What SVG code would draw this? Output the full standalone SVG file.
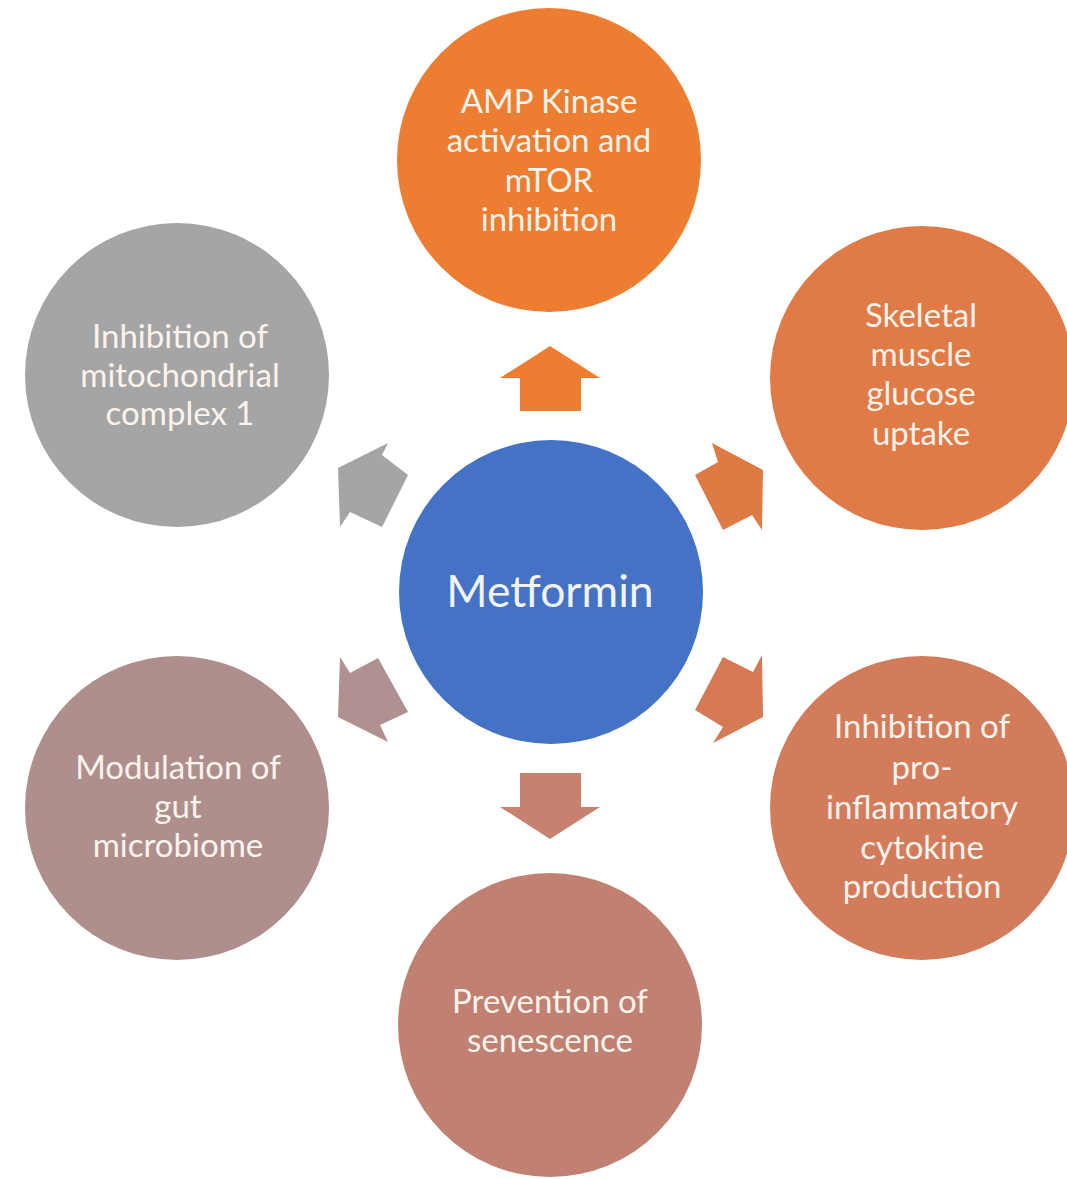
<svg xmlns="http://www.w3.org/2000/svg" width="1067" height="1179" viewBox="0 0 1067 1179">
<style>
.lbl{font-family:Lato,"Liberation Sans",sans-serif;font-size:33px;fill:#FBF3EC;text-anchor:middle}
.big{font-family:Lato,"Liberation Sans",sans-serif;font-size:44.5px;fill:#F2F4FA;text-anchor:middle}
</style>
<rect width="1067" height="1179" fill="#FFFFFF"/>
<g id="connectors">
<polygon points="550,346 600,378 581,378 581,411 520,411 520,378 500,378" fill="#ED7D31"/>
<polygon points="695,475 723,530 752,515 762,530 763,470 712,443 718,462" fill="#E07A45"/>
<polygon points="762,655 753,672 723,657 695,710 723,727 713,743 763,717" fill="#D67A55"/>
<polygon points="520,773 581,773 581,807 600,807 550,839 500,807 520,807" fill="#C8806F"/>
<polygon points="340,657 350,673 378,658 408,712 380,725 388,742 338,717" fill="#B09090"/>
<polygon points="388,443 338,468 340,527 350,512 382,527 408,475 382,455" fill="#A5A5A5"/>
</g>
<g id="node-metformin">
<circle cx="551" cy="592" r="152" fill="#4472C4"/>
<text class="big" x="550" y="607">Metformin</text>
</g>
<g id="node-ampk">
<circle cx="549" cy="160" r="152" fill="#ED7D31"/>
<text class="lbl" x="549" y="113">AMP Kinase</text>
<text class="lbl" x="549" y="152">activation and</text>
<text class="lbl" x="549" y="192">mTOR</text>
<text class="lbl" x="549" y="231">inhibition</text>
</g>
<g id="node-skeletal">
<circle cx="922" cy="378" r="152" fill="#E07A46"/>
<text class="lbl" x="921" y="327">Skeletal</text>
<text class="lbl" x="921" y="366">muscle</text>
<text class="lbl" x="921" y="405">glucose</text>
<text class="lbl" x="921" y="445">uptake</text>
</g>
<g id="node-cytokine">
<circle cx="922" cy="808" r="152" fill="#D27C5C"/>
<text class="lbl" x="922" y="738">Inhibition of</text>
<text class="lbl" x="922" y="779">pro-</text>
<text class="lbl" x="922" y="819">inflammatory</text>
<text class="lbl" x="922" y="859">cytokine</text>
<text class="lbl" x="922" y="898">production</text>
</g>
<g id="node-senescence">
<circle cx="550" cy="1025" r="152" fill="#C08172"/>
<text class="lbl" x="550" y="1013">Prevention of</text>
<text class="lbl" x="550" y="1052">senescence</text>
</g>
<g id="node-microbiome">
<circle cx="177" cy="808" r="152" fill="#AF8F8E"/>
<text class="lbl" x="178" y="779">Modulation of</text>
<text class="lbl" x="178" y="818">gut</text>
<text class="lbl" x="178" y="857">microbiome</text>
</g>
<g id="node-mito">
<circle cx="177" cy="375" r="152" fill="#A5A5A5"/>
<text class="lbl" x="180" y="348">Inhibition of</text>
<text class="lbl" x="180" y="387">mitochondrial</text>
<text class="lbl" x="180" y="425">complex 1</text>
</g>
</svg>
